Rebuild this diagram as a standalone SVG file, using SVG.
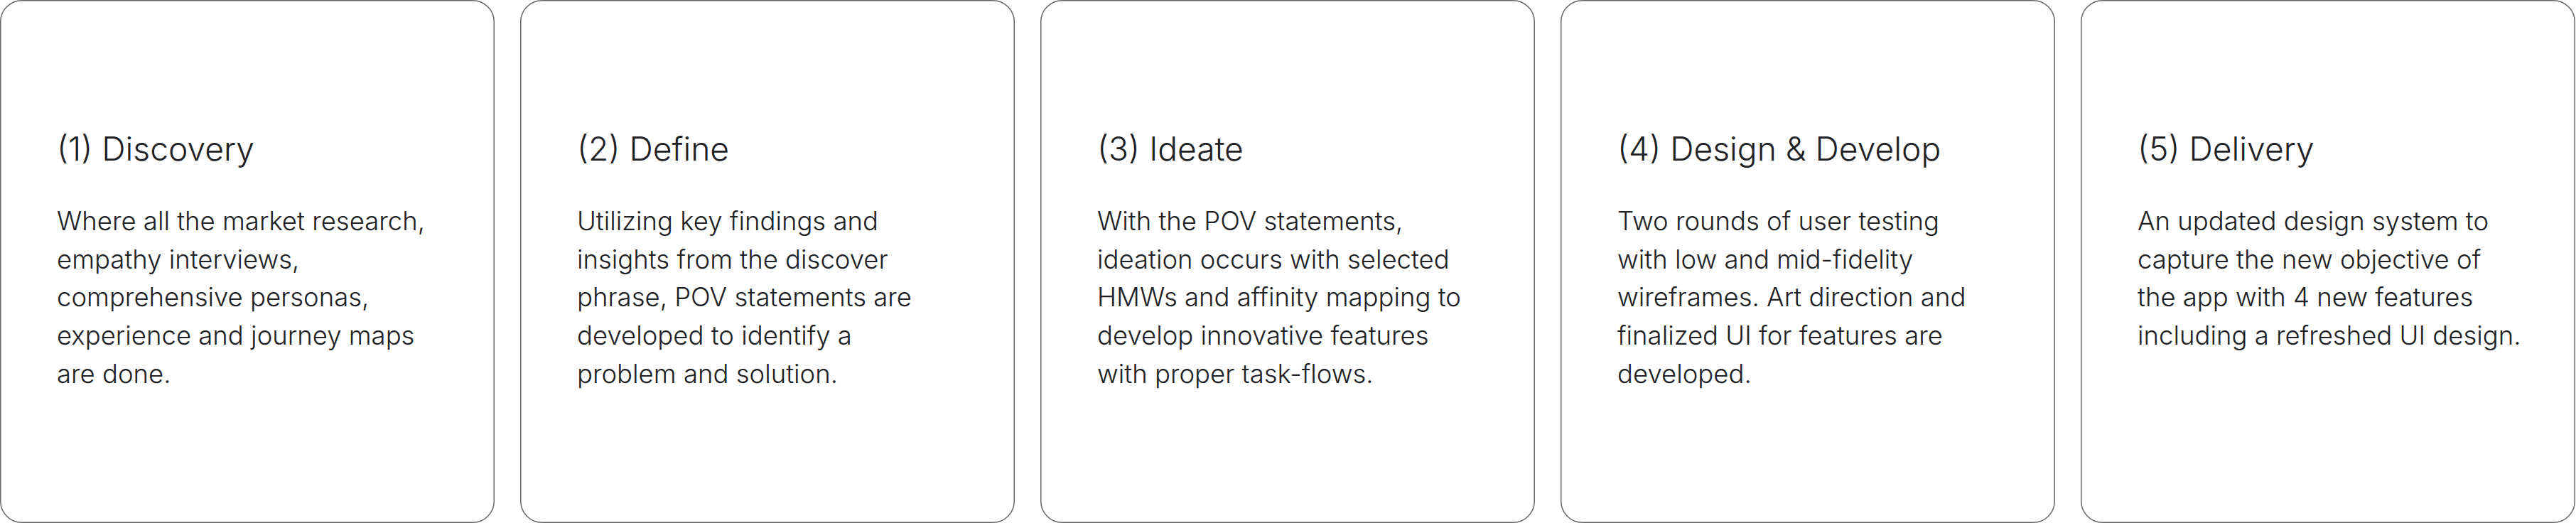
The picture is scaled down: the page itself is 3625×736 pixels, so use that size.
<svg xmlns="http://www.w3.org/2000/svg" width="3625" height="736" viewBox="0 0 3625 736">
<style>
.card{fill:#ffffff;stroke:#666666;stroke-width:1.5}
.title{font-family:Inter,"Open Sans","Liberation Sans",sans-serif;font-size:46.2px;font-weight:350;fill:#202124}
.body{font-family:Inter,"Open Sans","Liberation Sans",sans-serif;font-size:36.5px;font-weight:300;fill:#202124}
</style>
<rect x="0" y="0" width="3625" height="736" fill="#ffffff"/>
<g id="card1">
<rect class="card" x="0.75" y="0.75" width="694.5" height="734.5" rx="30"/>
<text class="title" x="80" y="226">(1) Discovery</text>
<text class="body" x="80" y="324">Where all the market research,</text>
<text class="body" x="80" y="377.7">empathy interviews,</text>
<text class="body" x="80" y="431.4">comprehensive personas,</text>
<text class="body" x="80" y="485.1">experience and journey maps</text>
<text class="body" x="80" y="538.8">are done.</text>
</g>
<g id="card2">
<rect class="card" x="732.75" y="0.75" width="694.5" height="734.5" rx="30"/>
<text class="title" x="812" y="226">(2) Define</text>
<text class="body" x="812" y="324">Utilizing key findings and</text>
<text class="body" x="812" y="377.7">insights from the discover</text>
<text class="body" x="812" y="431.4">phrase, POV statements are</text>
<text class="body" x="812" y="485.1">developed to identify a</text>
<text class="body" x="812" y="538.8">problem and solution.</text>
</g>
<g id="card3">
<rect class="card" x="1464.75" y="0.75" width="694.5" height="734.5" rx="30"/>
<text class="title" x="1544" y="226">(3) Ideate</text>
<text class="body" x="1544" y="324">With the POV statements,</text>
<text class="body" x="1544" y="377.7">ideation occurs with selected</text>
<text class="body" x="1544" y="431.4">HMWs and affinity mapping to</text>
<text class="body" x="1544" y="485.1">develop innovative features</text>
<text class="body" x="1544" y="538.8">with proper task-flows.</text>
</g>
<g id="card4">
<rect class="card" x="2196.75" y="0.75" width="694.5" height="734.5" rx="30"/>
<text class="title" x="2276" y="226">(4) Design &amp; Develop</text>
<text class="body" x="2276" y="324">Two rounds of user testing</text>
<text class="body" x="2276" y="377.7">with low and mid-fidelity</text>
<text class="body" x="2276" y="431.4">wireframes. Art direction and</text>
<text class="body" x="2276" y="485.1">finalized UI for features are</text>
<text class="body" x="2276" y="538.8">developed.</text>
</g>
<g id="card5">
<rect class="card" x="2928.75" y="0.75" width="694.5" height="734.5" rx="30"/>
<text class="title" x="3008" y="226">(5) Delivery</text>
<text class="body" x="3008" y="324">An updated design system to</text>
<text class="body" x="3008" y="377.7">capture the new objective of</text>
<text class="body" x="3008" y="431.4">the app with 4 new features</text>
<text class="body" x="3008" y="485.1">including a refreshed UI design.</text>
</g>
<g id="connectors"/>
</svg>
